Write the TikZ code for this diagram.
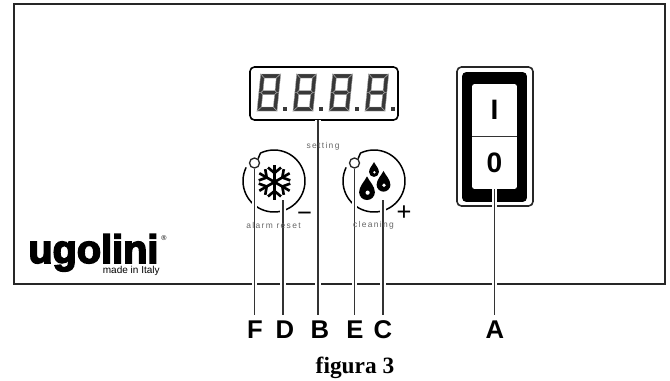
\documentclass[tikz,border=0pt]{standalone}
\usepackage{fontspec}
\setmainfont{Liberation Sans}
\newfontfamily\figurafont{Liberation Serif}
\newfontfamily\logofont[BoldFeatures={FakeBold=4}]{Liberation Sans}
\usetikzlibrary{calc,positioning}

\tikzset{
    panelline/.style={draw=black!85, line width=1pt},
    leader/.style={draw=black!80, line width=0.85pt, preaction={draw=white, line width=3.4pt}},
    letter/.style={font=\fontsize{14.6}{14.6}\selectfont\bfseries, inner sep=0pt, outer sep=2.8pt, anchor=base},
    faint/.style={font=\fontsize{4.8}{5}\selectfont\addfontfeature{LetterSpace=16}, text=black!60, inner sep=0pt},
    ledmark/.style={circle, draw=black!85, line width=0.75pt, fill=white, inner sep=0pt, minimum size=0.2cm},
    segment/.style={fill=black!78, draw=black!35, line width=0.25pt},
    digit/.pic={
        \path[segment] (0,37) -- (20,37) -- (16,33) -- (4,33) -- cycle;
        \path[segment] (0,0) -- (20,0) -- (16,4) -- (4,4) -- cycle;
        \path[segment] (4,16.5) -- (16,16.5) -- (18,18.5) -- (16,20.5) -- (4,20.5) -- (2,18.5) -- cycle;
        \path[segment] (0,37) -- (4,33) -- (4,20.5) -- (2,18.5) -- (0,18.5) -- cycle;
        \path[segment] (0,0) -- (4,4) -- (4,16.5) -- (2,18.5) -- (0,18.5) -- cycle;
        \path[segment] (20,37) -- (16,33) -- (16,20.5) -- (18,18.5) -- (20,18.5) -- cycle;
        \path[segment] (20,0) -- (16,4) -- (16,16.5) -- (18,18.5) -- (20,18.5) -- cycle;
    },
    dropmark/.pic={
        \fill[black] (0,12) .. controls (2.5,7) and (7.5,2.5) .. (7.5,-3) arc[start angle=0, end angle=-180, radius=7.5] .. controls (-7.5,2.5) and (-2.5,7) .. (0,12) -- cycle;
        \fill[white] (0.6,-3.5) circle[radius=2];
    },
}

\begin{document}
\begin{tikzpicture}[x=0.02cm, y=0.02cm]
    \useasboundingbox (0,0) rectangle (670,380);

    % Draw the front panel
    \draw[panelline] (14,96) rectangle (665,376);

    % Draw the display
    \node[draw=black, line width=0.9pt, rounded corners=2.5pt, minimum width=2.96cm, minimum height=1.06cm, inner sep=0pt] (display) at (324,286.5) {};
    \foreach \dx in {0,36,72,108} {
        \pic[xslant=0.1] at (257+\dx,269) {digit};
        \fill[black!78] (282.5+\dx,269) rectangle (286.5+\dx,273);
    }

    % Draw the two knobs
    \foreach \name/\cx in {F/274, E/374} {
        \node[ledmark] (led\name) at (\cx-19.5,217) {};
        \draw[black, line width=0.85pt] (led\name.50) -- ($(\cx,199)+(116:31)$) arc[start angle=116, end angle=-206, radius=31];
    }

    % Draw the snowflake
    \foreach \ang in {30,90,150,210,270,330} {
        \draw[black, line width=1.5pt] (274.5,198) -- ++(\ang:17.5);
        \draw[black, line width=1.5pt] ($(274.5,198)+(\ang:9)$) -- ++(\ang+50:8.5);
        \draw[black, line width=1.5pt] ($(274.5,198)+(\ang:9)$) -- ++(\ang-50:8.5);
    }

    % Draw the three drops
    \pic[scale=1.05] at (367,191) {dropmark};
    \pic[scale=0.92] at (383.5,198) {dropmark};
    \pic[scale=0.66] at (374,210) {dropmark};

    % Draw the minus and plus signs
    \node[font=\fontsize{14.5}{15}\selectfont, inner sep=0pt] (minus) at (304.5,163) {−};
    \node[font=\fontsize{14.5}{15}\selectfont, inner sep=0pt] (plus) at (404,167) {+};

    % Draw the rocker switch
    \node[draw=black!85, line width=0.9pt, rounded corners=2.5pt, minimum width=1.52cm, minimum height=2.78cm, inner sep=0pt] (switchbox) at (495,243.5) {};
    \node[fill=black, rounded corners=2.5pt, minimum width=1.3cm, minimum height=2.6cm, inner sep=0pt] (frame) at (494.5,243) {};
    \node[fill=white, rounded corners=1.5pt, minimum width=0.9cm, minimum height=2.1cm, inner sep=0pt] (rocker) at (494.5,243.5) {};
    \draw[black!80, line width=0.7pt] (rocker.west) -- (rocker.east);
    \node[font=\fontsize{16}{16}\selectfont\bfseries, inner sep=0pt] (on) at (494.5,270) {I};
    \node[font=\fontsize{16}{16}\selectfont\bfseries, inner sep=0pt] (off) at (494.5,217) {0};

    % Draw the logo
    \node[anchor=base west, font=\fontsize{22.6}{22}\logofont\bfseries, inner sep=0pt, text depth=0pt] (logo) at (28,117) {ugolini};
    \node[anchor=base east, font=\fontsize{5.7}{6}\selectfont, inner sep=0pt] (origin) at (160,107) {made in Italy};
    \node[font=\fontsize{4}{4}\selectfont, inner sep=0pt] (mark) at (164,142) {®};

    % Draw the letters
    \node[letter] (labelF) at (255,42) {F};
    \node[letter] (labelD) at (285,42) {D};
    \node[letter] (labelB) at (320,42) {B};
    \node[letter] (labelE) at (355,42) {E};
    \node[letter] (labelC) at (383,42) {C};
    \node[letter] (labelA) at (495,42) {A};

    % Draw the leaders
    \coordinate (startD) at (283,180);
    \coordinate (startB) at (318,260);
    \coordinate (startC) at (383,180);
    \draw[leader] (ledF.south) -- (ledF.south |- labelF.north);
    \draw[leader] (startD) -- (startD |- labelD.north);
    \draw[leader, line width=1.1pt] (startB) -- (startB |- labelB.north);
    \draw[leader] (ledE.south) -- (ledE.south |- labelE.north);
    \draw[leader] (startC) -- (startC |- labelC.north);
    \draw[leader] (rocker.south) -- (rocker.south |- labelA.north);

    % Draw the small captions
    \node[faint] (setting) at (323,234) {setting};
    \node[faint] (tagF) at (273.5,155) {alarm reset};
    \node[faint] (tagE) at (373.5,155) {cleaning};

    % Draw the caption
    \node[font=\fontsize{13.3}{14}\figurafont\bfseries, inner sep=0pt] (caption) at (355,12.5) {figura 3};
\end{tikzpicture}
\end{document}
